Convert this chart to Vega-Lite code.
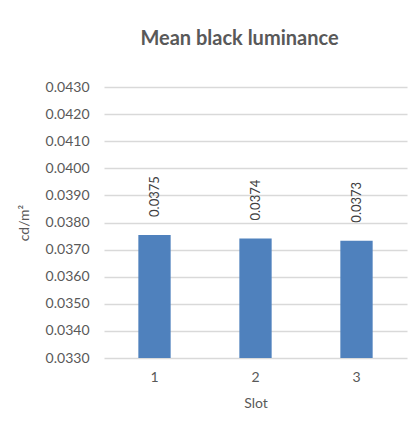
{
  "$schema": "https://vega.github.io/schema/vega-lite/v6.json",
  "width": 303,
  "height": 271,
  "autosize": {"type": "none"},
  "padding": {"left": 104, "top": 87, "right": 12, "bottom": 67},
  "background": "white",
  "config": {
    "font": "Lato",
    "view": {"stroke": null}
  },
  "title": {
    "text": "Mean black luminance",
    "font": "Lato",
    "fontSize": 20,
    "fontWeight": "bold",
    "color": "#595959",
    "anchor": "middle",
    "dx": -16,
    "offset": 31
  },
  "data": {
    "values": [
      {"slot": "1", "value": 0.03754, "label": "0.0375"},
      {"slot": "2", "value": 0.03741, "label": "0.0374"},
      {"slot": "3", "value": 0.03733, "label": "0.0373"}
    ]
  },
  "encoding": {
    "x": {
      "field": "slot",
      "type": "nominal",
      "scale": {"paddingInner": 0.68, "paddingOuter": 0.34},
      "axis": {
        "title": "Slot",
        "labelAngle": 0,
        "labelFontSize": 14,
        "labelColor": "#595959",
        "labelPadding": 12,
        "titleFontSize": 14,
        "titleFontWeight": "normal",
        "titleColor": "#595959",
        "titlePadding": 12,
        "domain": false,
        "ticks": false
      }
    },
    "y": {
      "field": "value",
      "type": "quantitative",
      "scale": {"domain": [0.033, 0.043], "zero": false, "nice": false},
      "axis": {
        "title": "cd/m²",
        "values": [0.033, 0.034, 0.035, 0.036, 0.037, 0.038, 0.039, 0.040, 0.041, 0.042, 0.043],
        "format": ".4f",
        "labelOverlap": false,
        "labelFontSize": 14,
        "labelColor": "#595959",
        "labelPadding": 15,
        "domain": false,
        "ticks": false,
        "gridColor": "#d9d9d9",
        "gridWidth": 1.5,
        "titleFontSize": 14,
        "titleFontWeight": "normal",
        "titleColor": "#595959",
        "titlePadding": 14
      }
    }
  },
  "layer": [
    {
      "mark": {"type": "bar", "color": "#4f81bd"},
      "encoding": {
        "y2": {"datum": 0.033}
      }
    },
    {
      "mark": {"type": "text", "angle": 270, "align": "left", "baseline": "middle", "dx": 18, "fontSize": 13, "color": "#404040"},
      "encoding": {
        "text": {"field": "label"}
      }
    }
  ]
}
